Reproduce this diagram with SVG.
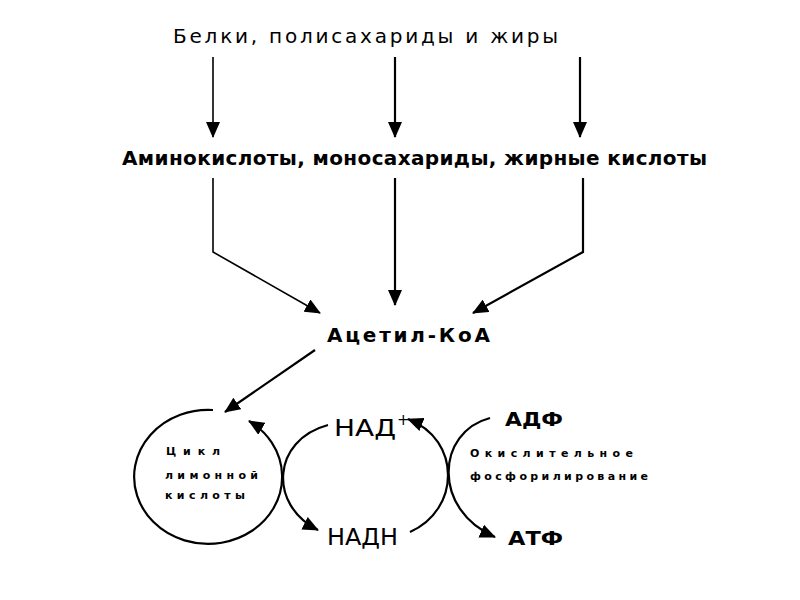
<svg xmlns="http://www.w3.org/2000/svg" width="800" height="600" viewBox="0 0 800 600">
<style>
.t{font-family:"DejaVu Sans","Liberation Sans",sans-serif;fill:#000}
.big{font-size:20px}
.b{font-weight:bold}
.sm{font-size:11px;font-weight:bold}
.ln{fill:none;stroke:#000;stroke-width:2.2}
.thin{stroke-width:1.6}
</style>
<defs>
<marker id="ah" viewBox="0 0 16 14" refX="15" refY="7" markerWidth="16" markerHeight="14" markerUnits="userSpaceOnUse" orient="auto">
<path d="M0,0 L16,7 L0,14 z" fill="#000"/>
</marker>
</defs>
<rect width="800" height="600" fill="#fff"/>
<g id="connectors">
<path class="ln thin" d="M213 57 L213 137" marker-end="url(#ah)"/>
<path class="ln" d="M395 57 L395 137" marker-end="url(#ah)"/>
<path class="ln" d="M580 57 L580 137" marker-end="url(#ah)"/>
<path class="ln thin" d="M213 178 L213 252 L320 313" marker-end="url(#ah)"/>
<path class="ln" d="M395 178 L395 305" marker-end="url(#ah)"/>
<path class="ln" d="M583 178 L583 252 L473 313" marker-end="url(#ah)"/>
<path class="ln" d="M315 350 L225 412" marker-end="url(#ah)"/>
<path class="ln" d="M213 410 A74 67 0 1 0 249 421" marker-end="url(#ah)"/>
<path class="ln" d="M328 425 C272 440 268 505 318 530" marker-end="url(#ah)"/>
<path class="ln" d="M410 532 C460 510 462 440 408 419" marker-end="url(#ah)"/>
<path class="ln" d="M490 418 C436 432 432 510 495 537" marker-end="url(#ah)"/>
</g>
<g id="node-sources">
<text class="t big" x="173" y="43" textLength="385" lengthAdjust="spacing">Белки, полисахариды и жиры</text>
</g>
<g id="node-monomers">
<text class="t big b" x="122" y="165" textLength="585" lengthAdjust="spacing">Аминокислоты, моносахариды, жирные кислоты</text>
</g>
<g id="node-acetylcoa">
<text class="t big b" x="327" y="342" textLength="163" lengthAdjust="spacing">Ацетил-КоА</text>
</g>
<g id="node-cycle">
<text class="t sm" x="166" y="455" textLength="54" lengthAdjust="spacing">Цикл</text>
<text class="t sm" x="165" y="479" textLength="93" lengthAdjust="spacing">лимонной</text>
<text class="t sm" x="165" y="499" textLength="80" lengthAdjust="spacing">кислоты</text>
</g>
<g id="node-nad">
<text class="t" style="font-size:23px" x="334" y="436" textLength="62" lengthAdjust="spacingAndGlyphs">НАД</text>
<text class="t" style="font-size:15px" x="397" y="425">+</text>
</g>
<g id="node-nadh">
<text class="t" style="font-size:23px" x="327" y="545" textLength="71" lengthAdjust="spacingAndGlyphs">НАДН</text>
</g>
<g id="node-adp">
<text class="t b" style="font-size:20px" x="505" y="426" textLength="58" lengthAdjust="spacingAndGlyphs">АДФ</text>
</g>
<g id="node-atp">
<text class="t b" style="font-size:20px" x="508" y="545" textLength="55" lengthAdjust="spacingAndGlyphs">АТФ</text>
</g>
<g id="node-oxphos">
<text class="t sm" x="470" y="457" textLength="163" lengthAdjust="spacing">Окислительное</text>
<text class="t sm" x="470" y="480" textLength="178" lengthAdjust="spacing">фосфорилирование</text>
</g>
</svg>
